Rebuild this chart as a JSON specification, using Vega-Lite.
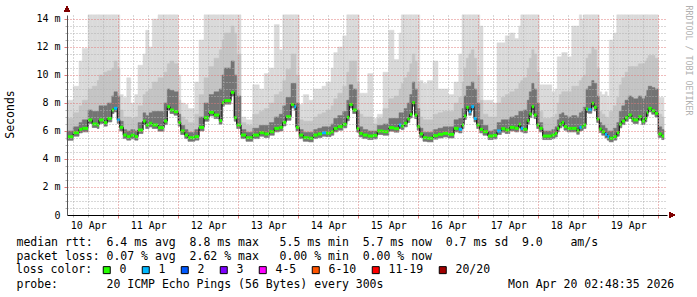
{
"$schema":"https://vega.github.io/schema/vega-lite/v6.json",
"width":600,"height":200,
"autosize":{"type":"none"},
"padding":{"left":67,"top":15,"right":30,"bottom":82},
"background":"white",
"config":{"view":{"stroke":null},"axis":{"labelFont":"DejaVu Sans Mono","titleFont":"DejaVu Sans Mono"}},
"data":{"values":[
{"t":3.5,"e":6.0,"m":5.59,"c":"0","lo":5.34,"d":6.0,"g":6.9,"hi":8.2},
{"t":6.0,"e":8.3,"m":5.88,"c":"0","lo":5.63,"d":6.3,"g":7.3,"hi":9.2},
{"t":8.3,"e":9.6,"m":6.12,"c":"0","lo":5.87,"d":6.6,"g":7.8,"hi":11.0},
{"t":9.6,"e":11.9,"m":6.19,"c":"0","lo":5.94,"d":6.8,"g":8.2,"hi":11.9},
{"t":11.9,"e":13.6,"m":6.79,"c":"0","lo":6.54,"d":7.5,"g":9.0,"hi":14.3},
{"t":13.6,"e":15.6,"m":6.5,"c":"0","lo":6.25,"d":7.4,"g":9.2,"hi":14.3},
{"t":15.6,"e":16.3,"m":6.43,"c":"0","lo":6.18,"d":7.4,"g":9.6,"hi":14.3},
{"t":16.3,"e":18.3,"m":6.79,"c":"0","lo":6.54,"d":7.8,"g":10.0,"hi":14.3},
{"t":18.3,"e":19.6,"m":6.6,"c":"0","lo":6.35,"d":7.8,"g":10.2,"hi":14.3},
{"t":19.6,"e":21.4,"m":6.9,"c":"0","lo":6.65,"d":8.0,"g":10.3,"hi":14.3},
{"t":21.4,"e":22.3,"m":7.5,"c":"0","lo":7.25,"d":8.5,"g":10.5,"hi":14.3},
{"t":22.3,"e":23.6,"m":7.62,"c":"1","lo":7.37,"d":8.8,"g":11.0,"hi":14.3},
{"t":23.6,"e":24.6,"m":6.8,"c":"1","lo":6.55,"d":8.5,"g":10.5,"hi":14.3},
{"t":24.6,"e":26.0,"m":6.26,"c":"0","lo":6.01,"d":6.7,"g":7.5,"hi":8.6},
{"t":26.0,"e":27.4,"m":5.71,"c":"0","lo":5.46,"d":6.1,"g":7.0,"hi":8.4},
{"t":27.4,"e":29.0,"m":5.6,"c":"0","lo":5.35,"d":6.0,"g":7.0,"hi":9.8},
{"t":29.0,"e":30.6,"m":5.7,"c":"0","lo":5.45,"d":6.1,"g":6.9,"hi":8.0},
{"t":30.6,"e":31.9,"m":5.6,"c":"0","lo":5.35,"d":6.0,"g":7.0,"hi":8.6},
{"t":31.9,"e":33.9,"m":6.07,"c":"0","lo":5.82,"d":6.6,"g":7.8,"hi":10.7},
{"t":33.9,"e":35.0,"m":6.71,"c":"0","lo":6.46,"d":7.3,"g":8.6,"hi":11.5},
{"t":35.0,"e":36.3,"m":6.43,"c":"0","lo":6.18,"d":7.1,"g":8.8,"hi":13.2},
{"t":36.3,"e":37.6,"m":6.55,"c":"0","lo":6.3,"d":7.3,"g":9.0,"hi":12.0},
{"t":37.6,"e":39.9,"m":6.43,"c":"0","lo":6.18,"d":7.4,"g":9.5,"hi":14.0},
{"t":39.9,"e":42.3,"m":6.24,"c":"0","lo":5.99,"d":7.4,"g":9.8,"hi":14.3},
{"t":42.3,"e":43.6,"m":6.71,"c":"0","lo":6.46,"d":8.0,"g":10.2,"hi":14.3},
{"t":43.6,"e":44.7,"m":7.74,"c":"0","lo":7.49,"d":9.0,"g":10.8,"hi":14.3},
{"t":44.7,"e":46.3,"m":7.5,"c":"0","lo":7.25,"d":8.9,"g":11.0,"hi":14.3},
{"t":46.3,"e":48.0,"m":7.38,"c":"0","lo":7.13,"d":8.8,"g":10.8,"hi":14.3},
{"t":48.0,"e":49.0,"m":6.6,"c":"0","lo":6.35,"d":7.2,"g":8.2,"hi":10.0},
{"t":49.0,"e":50.6,"m":6.0,"c":"0","lo":5.75,"d":6.4,"g":7.0,"hi":8.0},
{"t":50.6,"e":51.9,"m":5.71,"c":"0","lo":5.46,"d":6.1,"g":6.8,"hi":7.9},
{"t":51.9,"e":54.6,"m":5.52,"c":"0","lo":5.27,"d":5.9,"g":6.6,"hi":7.6},
{"t":54.6,"e":56.3,"m":5.6,"c":"0","lo":5.35,"d":6.1,"g":7.2,"hi":9.5},
{"t":56.3,"e":58.3,"m":6.26,"c":"0","lo":6.01,"d":7.0,"g":8.6,"hi":12.5},
{"t":58.3,"e":60.3,"m":6.95,"c":"0","lo":6.7,"d":8.0,"g":9.8,"hi":14.3},
{"t":60.3,"e":62.3,"m":7.33,"c":"0","lo":7.08,"d":8.6,"g":10.6,"hi":14.3},
{"t":62.3,"e":64.4,"m":7.14,"c":"0","lo":6.89,"d":8.8,"g":11.2,"hi":14.3},
{"t":64.4,"e":65.5,"m":6.74,"c":"0","lo":6.49,"d":9.0,"g":11.8,"hi":14.3},
{"t":65.5,"e":66.4,"m":8.02,"c":"0","lo":7.77,"d":10.0,"g":12.5,"hi":14.3},
{"t":66.4,"e":69.1,"m":8.17,"c":"0","lo":7.92,"d":10.5,"g":13.0,"hi":14.3},
{"t":69.1,"e":70.4,"m":8.76,"c":"0","lo":8.51,"d":11.0,"g":13.5,"hi":14.3},
{"t":70.4,"e":71.4,"m":6.95,"c":"0","lo":6.7,"d":10.0,"g":13.0,"hi":14.3},
{"t":71.4,"e":73.1,"m":6.43,"c":"0","lo":6.18,"d":8.5,"g":11.5,"hi":14.3},
{"t":73.1,"e":75.1,"m":5.71,"c":"0","lo":5.46,"d":6.1,"g":6.6,"hi":7.0},
{"t":75.1,"e":77.8,"m":5.52,"c":"0","lo":5.27,"d":5.9,"g":6.4,"hi":6.8},
{"t":77.8,"e":80.4,"m":5.71,"c":"0","lo":5.46,"d":6.2,"g":7.2,"hi":9.3},
{"t":80.4,"e":82.4,"m":5.88,"c":"0","lo":5.63,"d":6.4,"g":7.4,"hi":9.0},
{"t":82.4,"e":84.4,"m":5.79,"c":"0","lo":5.54,"d":6.4,"g":7.6,"hi":10.1},
{"t":84.4,"e":86.4,"m":5.95,"c":"0","lo":5.7,"d":6.6,"g":8.0,"hi":10.5},
{"t":86.4,"e":88.4,"m":6.19,"c":"0","lo":5.94,"d":7.0,"g":8.6,"hi":13.6},
{"t":88.4,"e":89.8,"m":6.26,"c":"0","lo":6.01,"d":7.2,"g":8.8,"hi":11.8},
{"t":89.8,"e":91.1,"m":6.62,"c":"0","lo":6.37,"d":7.8,"g":9.6,"hi":14.3},
{"t":91.1,"e":93.1,"m":7.02,"c":"0","lo":6.77,"d":8.4,"g":10.4,"hi":14.3},
{"t":93.1,"e":94.4,"m":7.9,"c":"0","lo":7.65,"d":9.4,"g":11.5,"hi":14.3},
{"t":94.4,"e":95.1,"m":7.74,"c":"1","lo":7.49,"d":9.4,"g":11.5,"hi":14.3},
{"t":95.1,"e":96.4,"m":6.26,"c":"0","lo":6.01,"d":8.0,"g":10.0,"hi":14.3},
{"t":96.4,"e":98.0,"m":5.71,"c":"0","lo":5.46,"d":6.1,"g":6.8,"hi":7.9},
{"t":98.0,"e":100.2,"m":5.52,"c":"0","lo":5.27,"d":5.9,"g":6.7,"hi":8.6},
{"t":100.2,"e":102.0,"m":5.48,"c":"0","lo":5.23,"d":5.9,"g":6.7,"hi":8.2},
{"t":102.0,"e":103.8,"m":5.71,"c":"0","lo":5.46,"d":6.1,"g":7.0,"hi":9.0},
{"t":103.8,"e":105.5,"m":5.79,"c":"0","lo":5.54,"d":6.2,"g":7.2,"hi":9.0},
{"t":105.5,"e":107.1,"m":5.88,"c":"1","lo":5.63,"d":6.3,"g":7.3,"hi":9.2},
{"t":107.1,"e":109.1,"m":5.85,"c":"0","lo":5.6,"d":6.3,"g":7.5,"hi":9.5},
{"t":109.1,"e":110.2,"m":5.95,"c":"0","lo":5.7,"d":6.5,"g":7.8,"hi":10.5},
{"t":110.2,"e":111.8,"m":6.19,"c":"0","lo":5.94,"d":6.9,"g":8.3,"hi":11.6},
{"t":111.8,"e":113.8,"m":6.31,"c":"0","lo":6.06,"d":7.1,"g":8.7,"hi":12.0},
{"t":113.8,"e":115.4,"m":6.48,"c":"0","lo":6.23,"d":7.4,"g":9.2,"hi":12.8},
{"t":115.4,"e":116.4,"m":6.98,"c":"0","lo":6.73,"d":8.2,"g":10.2,"hi":14.3},
{"t":116.4,"e":117.8,"m":7.9,"c":"0","lo":7.65,"d":9.3,"g":11.0,"hi":14.3},
{"t":117.8,"e":119.4,"m":7.5,"c":"0","lo":7.25,"d":9.0,"g":11.0,"hi":14.3},
{"t":119.4,"e":120.4,"m":6.17,"c":"0","lo":5.92,"d":7.5,"g":9.5,"hi":14.3},
{"t":120.4,"e":121.8,"m":5.83,"c":"0","lo":5.58,"d":6.3,"g":7.2,"hi":8.7},
{"t":121.8,"e":123.8,"m":5.71,"c":"0","lo":5.46,"d":6.1,"g":7.0,"hi":8.7},
{"t":123.8,"e":125.9,"m":5.64,"c":"0","lo":5.39,"d":6.0,"g":7.0,"hi":10.1},
{"t":125.9,"e":127.6,"m":5.69,"c":"0","lo":5.44,"d":6.0,"g":6.5,"hi":6.9},
{"t":127.6,"e":129.9,"m":6.0,"c":"0","lo":5.75,"d":6.4,"g":6.9,"hi":7.2},
{"t":129.9,"e":132.2,"m":5.95,"c":"0","lo":5.7,"d":6.5,"g":7.6,"hi":10.2},
{"t":132.2,"e":134.3,"m":6.24,"c":"0","lo":5.99,"d":6.9,"g":8.3,"hi":13.2},
{"t":134.3,"e":136.3,"m":6.17,"c":"0","lo":5.92,"d":6.9,"g":8.5,"hi":11.1},
{"t":136.3,"e":137.2,"m":6.43,"c":"1","lo":6.18,"d":7.3,"g":9.0,"hi":13.0},
{"t":137.2,"e":138.3,"m":6.35,"c":"0","lo":6.1,"d":7.3,"g":9.4,"hi":14.3},
{"t":138.3,"e":139.6,"m":6.55,"c":"0","lo":6.3,"d":7.6,"g":9.8,"hi":14.3},
{"t":139.6,"e":140.6,"m":6.86,"c":"0","lo":6.61,"d":8.0,"g":10.2,"hi":14.3},
{"t":140.6,"e":141.6,"m":7.19,"c":"0","lo":6.94,"d":8.6,"g":10.8,"hi":14.3},
{"t":141.6,"e":142.6,"m":8.02,"c":"0","lo":7.77,"d":9.5,"g":11.5,"hi":14.3},
{"t":142.6,"e":143.6,"m":7.14,"c":"0","lo":6.89,"d":9.0,"g":11.0,"hi":14.3},
{"t":143.6,"e":144.6,"m":6.31,"c":"0","lo":6.06,"d":7.6,"g":9.5,"hi":14.3},
{"t":144.6,"e":145.9,"m":5.79,"c":"0","lo":5.54,"d":6.2,"g":7.0,"hi":9.6},
{"t":145.9,"e":147.6,"m":5.52,"c":"0","lo":5.27,"d":5.9,"g":6.8,"hi":9.4},
{"t":147.6,"e":149.9,"m":5.48,"c":"0","lo":5.23,"d":5.9,"g":6.8,"hi":9.6},
{"t":149.9,"e":151.9,"m":5.67,"c":"0","lo":5.42,"d":6.1,"g":7.2,"hi":11.0},
{"t":151.9,"e":153.9,"m":5.76,"c":"0","lo":5.51,"d":6.2,"g":7.3,"hi":9.0},
{"t":153.9,"e":155.9,"m":5.83,"c":"0","lo":5.58,"d":6.3,"g":7.4,"hi":9.0},
{"t":155.9,"e":158.3,"m":5.76,"c":"0","lo":5.51,"d":6.3,"g":7.4,"hi":8.6},
{"t":158.3,"e":160.2,"m":6.19,"c":"0","lo":5.94,"d":6.8,"g":8.0,"hi":9.5},
{"t":160.2,"e":161.5,"m":6.12,"c":"1","lo":5.87,"d":6.9,"g":8.4,"hi":11.5},
{"t":161.5,"e":162.3,"m":6.43,"c":"0","lo":6.18,"d":7.6,"g":9.5,"hi":14.3},
{"t":162.3,"e":163.2,"m":7.07,"c":"0","lo":6.82,"d":8.5,"g":10.5,"hi":14.3},
{"t":163.2,"e":164.2,"m":7.69,"c":"0","lo":7.44,"d":9.2,"g":11.2,"hi":14.3},
{"t":164.2,"e":165.2,"m":7.38,"c":"1","lo":7.13,"d":9.2,"g":11.5,"hi":14.3},
{"t":165.2,"e":166.3,"m":7.74,"c":"1","lo":7.49,"d":9.5,"g":11.8,"hi":14.3},
{"t":166.3,"e":167.4,"m":6.9,"c":"1","lo":6.65,"d":9.0,"g":11.2,"hi":14.3},
{"t":167.4,"e":168.6,"m":6.43,"c":"0","lo":6.18,"d":8.0,"g":10.0,"hi":14.3},
{"t":168.6,"e":169.9,"m":6.12,"c":"0","lo":5.87,"d":6.8,"g":8.2,"hi":13.5},
{"t":169.9,"e":171.9,"m":5.95,"c":"0","lo":5.7,"d":6.4,"g":7.2,"hi":8.2},
{"t":171.9,"e":173.9,"m":5.64,"c":"0","lo":5.39,"d":6.0,"g":7.0,"hi":8.2},
{"t":173.9,"e":175.5,"m":5.69,"c":"0","lo":5.44,"d":6.1,"g":7.0,"hi":8.0},
{"t":175.5,"e":177.2,"m":6.0,"c":"1","lo":5.75,"d":6.6,"g":8.0,"hi":12.3},
{"t":177.2,"e":178.8,"m":6.17,"c":"0","lo":5.92,"d":6.8,"g":8.4,"hi":12.3},
{"t":178.8,"e":180.6,"m":6.07,"c":"0","lo":5.82,"d":6.8,"g":8.6,"hi":12.8},
{"t":180.6,"e":182.6,"m":6.26,"c":"0","lo":6.01,"d":7.0,"g":8.8,"hi":13.0},
{"t":182.6,"e":184.2,"m":6.19,"c":"0","lo":5.94,"d":7.1,"g":9.0,"hi":12.6},
{"t":184.2,"e":185.0,"m":6.48,"c":"0","lo":6.23,"d":7.4,"g":9.4,"hi":13.5},
{"t":185.0,"e":186.0,"m":6.19,"c":"1","lo":5.94,"d":7.4,"g":9.6,"hi":14.3},
{"t":186.0,"e":187.6,"m":6.12,"c":"0","lo":5.87,"d":7.5,"g":9.8,"hi":14.3},
{"t":187.6,"e":188.4,"m":6.74,"c":"0","lo":6.49,"d":8.2,"g":10.5,"hi":14.3},
{"t":188.4,"e":189.4,"m":7.21,"c":"0","lo":6.96,"d":8.8,"g":11.2,"hi":14.3},
{"t":189.4,"e":190.3,"m":7.74,"c":"0","lo":7.49,"d":9.4,"g":11.8,"hi":14.3},
{"t":190.3,"e":191.4,"m":7.14,"c":"0","lo":6.89,"d":9.0,"g":11.5,"hi":14.3},
{"t":191.4,"e":192.4,"m":6.43,"c":"0","lo":6.18,"d":8.0,"g":10.2,"hi":14.3},
{"t":192.4,"e":193.8,"m":6.19,"c":"0","lo":5.94,"d":6.6,"g":7.4,"hi":9.3},
{"t":193.8,"e":197.4,"m":5.64,"c":"0","lo":5.39,"d":6.0,"g":6.9,"hi":9.3},
{"t":197.4,"e":198.7,"m":5.71,"c":"0","lo":5.46,"d":6.1,"g":7.0,"hi":8.8},
{"t":198.7,"e":199.6,"m":5.83,"c":"0","lo":5.58,"d":6.3,"g":7.2,"hi":9.0},
{"t":199.6,"e":200.4,"m":6.19,"c":"0","lo":5.94,"d":6.8,"g":8.0,"hi":11.3},
{"t":200.4,"e":201.4,"m":6.48,"c":"0","lo":6.23,"d":7.2,"g":8.6,"hi":11.3},
{"t":201.4,"e":202.3,"m":6.62,"c":"0","lo":6.37,"d":7.3,"g":8.8,"hi":11.6},
{"t":202.3,"e":203.6,"m":6.31,"c":"0","lo":6.06,"d":7.1,"g":8.8,"hi":11.6},
{"t":203.6,"e":205.4,"m":6.19,"c":"0","lo":5.94,"d":7.0,"g":8.8,"hi":11.3},
{"t":205.4,"e":207.4,"m":6.19,"c":"0","lo":5.94,"d":7.1,"g":9.2,"hi":13.5},
{"t":207.4,"e":208.4,"m":6.02,"c":"0","lo":5.77,"d":7.0,"g":9.2,"hi":13.5},
{"t":208.4,"e":209.4,"m":6.26,"c":"1","lo":6.01,"d":7.3,"g":9.6,"hi":14.3},
{"t":209.4,"e":210.0,"m":6.3,"c":"0","lo":6.05,"d":7.4,"g":9.8,"hi":14.0},
{"t":210.0,"e":211.1,"m":6.43,"c":"0","lo":6.18,"d":7.7,"g":10.0,"hi":14.3},
{"t":211.1,"e":212.0,"m":7.57,"c":"0","lo":7.32,"d":9.0,"g":11.2,"hi":14.3},
{"t":212.0,"e":213.4,"m":7.52,"c":"1","lo":7.27,"d":9.2,"g":11.5,"hi":14.3},
{"t":213.4,"e":214.3,"m":7.98,"c":"0","lo":7.73,"d":9.6,"g":12.0,"hi":14.3},
{"t":214.3,"e":215.4,"m":7.69,"c":"0","lo":7.44,"d":9.4,"g":11.8,"hi":14.3},
{"t":215.4,"e":216.4,"m":6.86,"c":"0","lo":6.61,"d":8.5,"g":10.5,"hi":14.3},
{"t":216.4,"e":217.4,"m":6.14,"c":"0","lo":5.89,"d":6.6,"g":7.4,"hi":8.8},
{"t":217.4,"e":218.7,"m":5.95,"c":"0","lo":5.7,"d":6.4,"g":7.2,"hi":8.6},
{"t":218.7,"e":219.6,"m":5.76,"c":"1","lo":5.51,"d":6.2,"g":7.0,"hi":8.8},
{"t":219.6,"e":220.4,"m":5.6,"c":"1","lo":5.35,"d":6.0,"g":6.9,"hi":8.5},
{"t":220.4,"e":222.0,"m":5.48,"c":"0","lo":5.23,"d":6.0,"g":7.4,"hi":12.5},
{"t":222.0,"e":223.4,"m":5.6,"c":"0","lo":5.35,"d":6.2,"g":7.8,"hi":13.0},
{"t":223.4,"e":224.4,"m":5.88,"c":"0","lo":5.63,"d":6.6,"g":8.4,"hi":14.3},
{"t":224.4,"e":225.4,"m":6.48,"c":"0","lo":6.23,"d":7.4,"g":9.3,"hi":14.3},
{"t":225.4,"e":226.7,"m":6.71,"c":"0","lo":6.46,"d":7.8,"g":9.8,"hi":14.3},
{"t":226.7,"e":228.0,"m":6.95,"c":"0","lo":6.7,"d":8.2,"g":10.2,"hi":14.3},
{"t":228.0,"e":229.4,"m":7.14,"c":"0","lo":6.89,"d":8.5,"g":10.6,"hi":14.3},
{"t":229.4,"e":230.0,"m":6.9,"c":"0","lo":6.65,"d":8.4,"g":10.6,"hi":14.3},
{"t":230.0,"e":232.0,"m":6.79,"c":"0","lo":6.54,"d":8.3,"g":10.6,"hi":14.3},
{"t":232.0,"e":233.4,"m":7.02,"c":"0","lo":6.77,"d":8.5,"g":10.8,"hi":14.3},
{"t":233.4,"e":234.7,"m":6.71,"c":"0","lo":6.46,"d":8.3,"g":10.8,"hi":14.3},
{"t":234.7,"e":235.4,"m":6.9,"c":"0","lo":6.65,"d":8.5,"g":11.0,"hi":14.3},
{"t":235.4,"e":236.0,"m":7.31,"c":"0","lo":7.06,"d":8.9,"g":11.2,"hi":14.3},
{"t":236.0,"e":237.4,"m":7.62,"c":"0","lo":7.37,"d":9.2,"g":11.4,"hi":14.3},
{"t":237.4,"e":238.7,"m":7.45,"c":"0","lo":7.2,"d":9.1,"g":11.4,"hi":14.3},
{"t":238.7,"e":240.0,"m":7.26,"c":"0","lo":7.01,"d":9.0,"g":11.2,"hi":14.3},
{"t":240.0,"e":241.4,"m":5.79,"c":"0","lo":5.54,"d":6.3,"g":7.2,"hi":8.4},
{"t":241.4,"e":242.3,"m":5.64,"c":"0","lo":5.39,"d":6.1,"g":7.0,"hi":8.4}
]},
"layer":[
{"mark":{"type":"rect","color":"#dadada","stroke":"#dadada","strokeWidth":0.5},
 "encoding":{
  "x":{"field":"t","type":"quantitative","scale":{"domain":[3.5,243.5],"nice":false,"zero":false},
       "axis":{"orient":"bottom","values":[6,12,18,30,36,42,54,60,66,78,84,90,102,108,114,126,132,138,150,156,162,174,180,186,198,204,210,222,228,234],"grid":true,"gridColor":"#b0b0b0","gridDash":[1,2],"gridOpacity":1,"labels":false,"domain":false,"ticks":true,"tickSize":2,"tickColor":"#b0b0b0",
               "title":"probe:\u00a0\u00a0\u00a0\u00a0\u00a0\u00a0\u00a020\u00a0ICMP\u00a0Echo\u00a0Pings\u00a0(56\u00a0Bytes)\u00a0every\u00a0300s\u00a0\u00a0\u00a0\u00a0\u00a0\u00a0\u00a0\u00a0\u00a0\u00a0\u00a0\u00a0\u00a0\u00a0\u00a0\u00a0\u00a0\u00a0Mon\u00a0Apr\u00a020\u00a002:48:35\u00a02026",
               "titleFont":"DejaVu Sans Mono","titleFontSize":11.5,"titleFontWeight":"normal","titleColor":"#000000","titleX":-51,"titleY":72,"titleAlign":"left","titleBaseline":"alphabetic","titleAngle":0,"zindex":1}},
  "x2":{"field":"e"},
  "y":{"field":"lo","type":"quantitative","scale":{"domain":[0,14.2857],"nice":false,"zero":false},
       "axis":{"orient":"left","values":[0.5,1,1.5,2.5,3,3.5,4.5,5,5.5,6.5,7,7.5,8.5,9,9.5,10.5,11,11.5,12.5,13,13.5],"grid":true,"gridColor":"#b0b0b0","gridDash":[1,2],"gridOpacity":1,"labels":false,"domain":false,"ticks":true,"tickSize":2,"tickColor":"#b0b0b0","title":null,"zindex":1}},
  "y2":{"field":"hi"}}},
{"mark":{"type":"rect","color":"#c4c4c4","stroke":"#c4c4c4","strokeWidth":0.5},
 "encoding":{
  "x":{"field":"t","type":"quantitative",
       "axis":{"orient":"bottom","values":[24,48,72,96,120,144,168,192,216,240],"grid":true,"gridColor":"#e07878","gridDash":[1,2],"gridOpacity":1,"labels":false,"domain":false,"ticks":true,"tickSize":3,"tickColor":"#e07878","title":null,"zindex":1}},
  "x2":{"field":"e"},
  "y":{"field":"lo","type":"quantitative",
       "axis":{"orient":"left","values":[2,4,6,8,10,12,14],"grid":true,"gridColor":"#e07878","gridDash":[1,2],"gridOpacity":1,"labels":false,"domain":false,"ticks":true,"tickSize":3,"tickColor":"#e07878","title":null,"zindex":1}},
  "y2":{"field":"g"}}},
{"mark":{"type":"rect","color":"#747474","stroke":"#747474","strokeWidth":0.5},
 "encoding":{
  "x":{"field":"t","type":"quantitative",
       "axis":{"orient":"bottom","values":[12,36,60,84,108,132,156,180,204,228],"labelExpr":"(10 + floor(datum.value / 24)) + ' Apr'","grid":false,"ticks":false,"domain":true,"domainColor":"#000000","labelFontSize":10,"labelColor":"#000000","labelPadding":5,
               "title":["median rtt:\u00a0\u00a06.4\u00a0ms\u00a0avg\u00a0\u00a08.8\u00a0ms\u00a0max\u00a0\u00a0\u00a05.5\u00a0ms\u00a0min\u00a0\u00a05.7\u00a0ms\u00a0now\u00a0\u00a00.7\u00a0ms\u00a0sd\u00a0\u00a09.0\u00a0\u00a0\u00a0\u00a0am/s","packet\u00a0loss:\u00a00.07\u00a0%\u00a0avg\u00a0\u00a02.62\u00a0%\u00a0max\u00a0\u00a0\u00a00.00\u00a0%\u00a0min\u00a0\u00a00.00\u00a0%\u00a0now"],
               "titleFont":"DejaVu Sans Mono","titleFontSize":11.5,"titleFontWeight":"normal","titleColor":"#000000","titleLineHeight":14,"titleX":-51,"titleY":30,"titleAlign":"left","titleBaseline":"alphabetic","titleAngle":0,"zindex":1}},
  "x2":{"field":"e"},
  "y":{"field":"lo","type":"quantitative",
       "axis":{"orient":"left","values":[0,2,4,6,8,10,12,14],"labelExpr":"datum.value == 0 ? '0' : datum.value + ' m'","grid":false,"ticks":false,"domain":true,"domainColor":"#555555","labelFontSize":10,"labelColor":"#000000","labelPadding":7,
               "title":"Seconds","titleFontSize":11.5,"titleFontWeight":"normal","titleColor":"#000000","titleX":-57,"titleY":99,"titleAngle":-90,"titleBaseline":"middle","titleAlign":"center","zindex":1}},
  "y2":{"field":"d"}}},
{"mark":{"type":"line","interpolate":"step-after","color":"#000000","strokeWidth":1},
 "encoding":{
  "x":{"field":"t","type":"quantitative","axis":null},
  "y":{"field":"m","type":"quantitative",
       "axis":{"orient":"right","labels":false,"ticks":false,"domain":false,"grid":false,"title":"RRDTOOL / TOBI OETIKER","titleFont":"DejaVu Sans Mono","titleFontSize":8.3,"titleFontWeight":"normal","titleColor":"#b0b0b0","titleAngle":90,"titleX":20,"titleY":-10,"titleAlign":"left","titleBaseline":"middle"}}}},
{"mark":{"type":"rect","yOffset":1.5,"y2Offset":-1.5},
 "encoding":{
  "x":{"field":"t","type":"quantitative","axis":null},
  "x2":{"field":"e"},
  "y":{"field":"m","type":"quantitative","axis":null},
  "y2":{"field":"m"},
  "color":{"field":"c","type":"nominal",
    "scale":{"domain":["0","1","2","3","4-5","6-10","11-19","20/20"],"range":["#26ff00","#00b8ff","#0059ff","#7e00ff","#ff00ff","#ff5500","#ff0000","#a10000"]},
    "legend":{"title":"loss color:","orient":"none","legendX":-51,"legendY":249,"direction":"horizontal","titleOrient":"left","titleFont":"DejaVu Sans Mono","titleFontSize":11.5,"titleFontWeight":"normal","titleColor":"#000000","titlePadding":8,"labelFont":"DejaVu Sans Mono","labelFontSize":11.5,"labelColor":"#000000","labelOffset":7,"columnPadding":13,"symbolType":"square","symbolSize":49,"symbolStrokeColor":"#000000","symbolStrokeWidth":1,"symbolOpacity":1,"padding":0,
      "encode":{"symbols":{"update":{"stroke":{"value":"#000000"},"strokeWidth":{"value":1}}}}}}}},
{"mark":{"type":"point","shape":"triangle-up","filled":true,"size":30,"color":"#7f0000","opacity":1,"yOffset":-6,"clip":false},
 "encoding":{"x":{"datum":3.5,"type":"quantitative","axis":null},"y":{"datum":14.2857,"type":"quantitative","axis":null}}},
{"mark":{"type":"point","shape":"triangle-right","filled":true,"size":30,"color":"#7f0000","opacity":1,"xOffset":5,"clip":false},
 "encoding":{"x":{"datum":243.5,"type":"quantitative","axis":null},"y":{"datum":0,"type":"quantitative","axis":null}}}
],
"resolve":{"axis":{"x":"independent","y":"independent"}}
}
